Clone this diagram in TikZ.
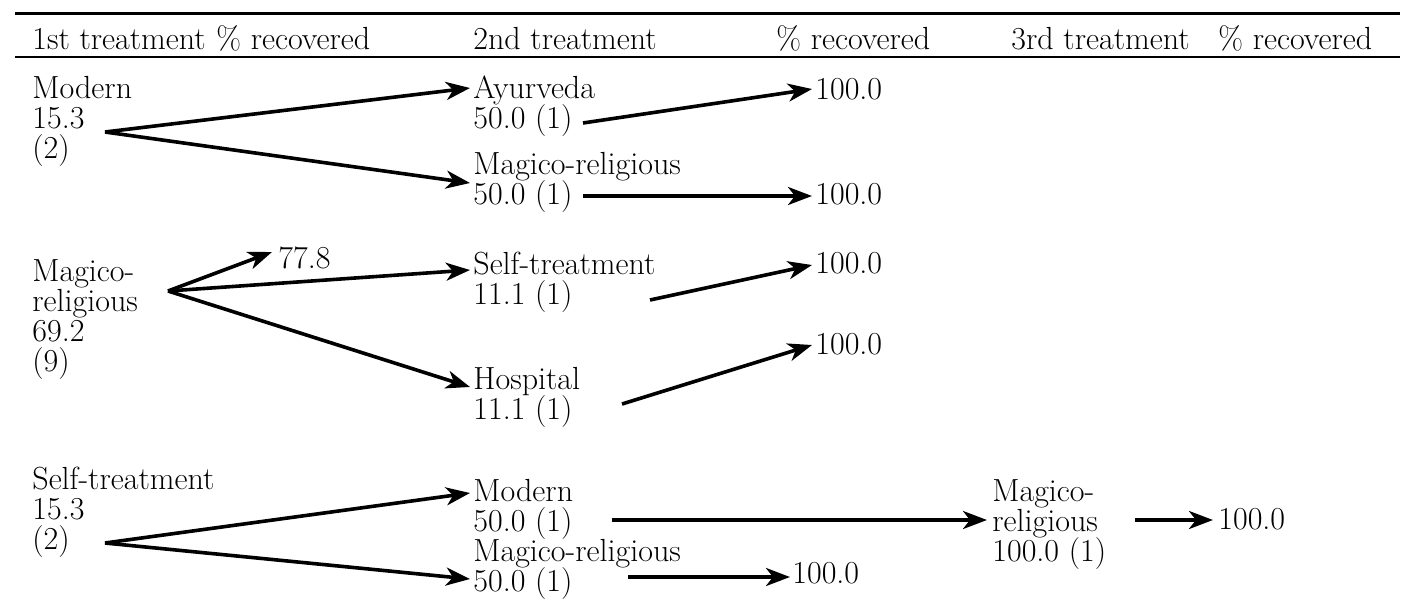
\documentclass[tikz,border=0pt]{standalone}
\usetikzlibrary{arrows.meta}
\newcommand\diagfont{\fontsize{16}{16}\selectfont}
\begin{document}
\begin{tikzpicture}[x=0.5pt,y=-0.5pt,
  lbl/.style={anchor=base west,inner sep=0pt,font=\diagfont},
  arr/.style={line width=1.8pt,-{Stealth[length=12pt,width=9pt,inset=3.5pt]}},
  rulethick/.style={line width=1.5pt},
  rulethin/.style={line width=1pt}]
\useasboundingbox (0,0) rectangle (1420,600);
% rules
\coordinate (rl1) at (15,13);
\coordinate (rr1) at (1400,13);
\coordinate (rl2) at (15,57);
\coordinate (rr2) at (1400,57);
\draw[rulethick] (rl1) -- (rr1);
\draw[rulethin] (rl2) -- (rr2);
% header
\node[lbl] (h1) at (32,49) {1st treatment};
\node[lbl] (h2) at (216,49) {\% recovered};
\node[lbl] (h3) at (473,49) {2nd treatment};
\node[lbl] (h4) at (776,49) {\% recovered};
\node[lbl] (h5) at (1011,49) {3rd treatment};
\node[lbl] (h6) at (1218,49) {\% recovered};
% group 1
\node[lbl] (n1a) at (32,98) {Modern};
\node[lbl] (n1b) at (32,128) {15.3};
\node[lbl] (n1c) at (32,158) {(2)};
\node[lbl] (a1) at (473,98) {Ayurveda};
\node[lbl] (a2) at (473,128) {50.0 (1)};
\node[lbl] (b1) at (473,174) {Magico-religious};
\node[lbl] (b2) at (473,204) {50.0 (1)};
\node[lbl] (r1) at (815,99) {100.0};
\node[lbl] (r2) at (815,204) {100.0};
\coordinate (o1) at ([shift={(73,4)}]n1b.base west);
\draw[arr] (o1) -- ([shift={(-3,-10)}]a1.base west);
\draw[arr] (o1) -- ([shift={(-3,9)}]b1.base west);
\draw[arr] ([shift={(110,-5)}]a2.base west) -- ([shift={(-3,-10)}]r1.base west);
\draw[arr] ([shift={(110,-8)}]b2.base west) -- ([shift={(-3,-8)}]r2.base west);
% group 2
\node[lbl] (m1) at (32,281) {Magico-};
\node[lbl] (m2) at (32,311) {religious};
\node[lbl] (m3) at (32,341) {69.2};
\node[lbl] (m4) at (32,371) {(9)};
\node[lbl] (s78) at (278,268) {77.8};
\node[lbl] (st1) at (473,274) {Self-treatment};
\node[lbl] (st2) at (473,304) {11.1 (1)};
\node[lbl] (hp1) at (473,389) {Hospital};
\node[lbl] (hp2) at (473,419) {11.1 (1)};
\node[lbl] (r3) at (815,273) {100.0};
\node[lbl] (r4) at (815,354) {100.0};
\coordinate (o2) at ([shift={(136,-20)}]m2.base west);
\draw[arr] (o2) -- ([shift={(-6,-16)}]s78.base west);
\draw[arr] (o2) -- ([shift={(-3,-4)}]st1.base west);
\draw[arr] (o2) -- ([shift={(-3,-2)}]hp1.base west);
\draw[arr] ([shift={(177,-4)}]st2.base west) -- ([shift={(-3,-8)}]r3.base west);
\draw[arr] ([shift={(149,-15)}]hp2.base west) -- ([shift={(-3,-9)}]r4.base west);
% group 3
\node[lbl] (s1) at (32,489) {Self-treatment};
\node[lbl] (s2) at (32,519) {15.3};
\node[lbl] (s3) at (32,549) {(2)};
\node[lbl] (mo1) at (473,501) {Modern};
\node[lbl] (mo2) at (473,531) {50.0 (1)};
\node[lbl] (mr1) at (473,561) {Magico-religious};
\node[lbl] (mr2) at (473,591) {50.0 (1)};
\node[lbl] (th1) at (992,501) {Magico-};
\node[lbl] (th2) at (992,531) {religious};
\node[lbl] (th3) at (992,561) {100.0 (1)};
\node[lbl] (r5) at (1218,529) {100.0};
\node[lbl] (r6) at (792,583) {100.0};
\coordinate (o3) at ([shift={(73,-6)}]s3.base west);
\draw[arr] (o3) -- ([shift={(-3,-8)}]mo1.base west);
\draw[arr] (o3) -- ([shift={(-3,-12)}]mr2.base west);
\draw[arr] ([shift={(139,-11)}]mo2.base west) -- ([shift={(-5,-11)}]th2.base west);
\draw[arr] ([shift={(143,-11)}]th2.base west) -- ([shift={(-5,-9)}]r5.base west);
\draw[arr] ([shift={(155,-14)}]mr2.base west) -- ([shift={(-2,-6)}]r6.base west);
\end{tikzpicture}
\end{document}
